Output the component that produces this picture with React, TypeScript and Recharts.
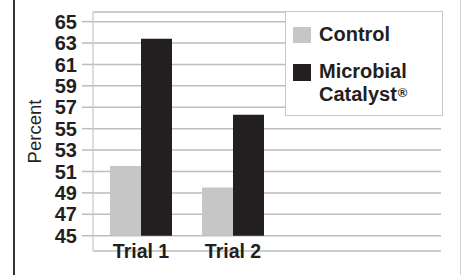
import { BarChart, Bar, XAxis, YAxis, CartesianGrid, Legend, Label } from "recharts";

const categories = ["Trial 1", "Trial 2"];
const controlValues = [51.5, 49.5];
const catalystValues = [63.4, 56.3];
const baseValue = 45;
const yTicks = [45, 47, 49, 51, 53, 55, 57, 59, 61, 63, 65];

const CONTROL_COLOR = "#c6c6c6";
const CATALYST_COLOR = "#231f20";
const TEXT_COLOR = "#231f20";
const GRID_COLOR = "#bdbdbd";
const FONT = "'Liberation Sans', Arial, sans-serif";

const chartData = categories.map((name, i) => ({
  name,
  control: [baseValue, controlValues[i]],
  catalyst: [baseValue, catalystValues[i]],
}));

const LegendBox = () => (
  <div
    style={{
      position: "relative",
      width: 156,
      height: 103,
      border: "1px solid #c8c8c8",
      background: "#fff",
      fontFamily: FONT,
      fontWeight: 700,
      fontSize: 20,
      lineHeight: "23px",
      color: TEXT_COLOR,
    }}
  >
    <div style={{ position: "absolute", left: 7, top: 15, width: 18, height: 16, background: CONTROL_COLOR }} />
    <div style={{ position: "absolute", left: 33, top: 11, whiteSpace: "nowrap" }}>Control</div>
    <div style={{ position: "absolute", left: 7, top: 52, width: 18, height: 17, background: CATALYST_COLOR }} />
    <div style={{ position: "absolute", left: 33, top: 48, whiteSpace: "nowrap" }}>
      Microbial
      <br />
      Catalyst
      <span style={{ fontSize: 13, verticalAlign: "top", position: "relative", top: -2, marginLeft: 1 }}>®</span>
    </div>
  </div>
);

const XTick = ({ x, y, payload }: any) => (
  <text
    x={x}
    y={y + 7}
    textAnchor="middle"
    fill={TEXT_COLOR}
    fontFamily={FONT}
    fontWeight={700}
    fontSize={19.5}
  >
    {payload.value}
  </text>
);

export default function App() {
  return (
    <div style={{ position: "absolute", left: 0, top: 0, width: 462, height: 275, background: "#fff" }}>
      <div style={{ position: "absolute", left: 13, top: 0, width: 2, height: 275, background: "#333" }} />
      <div style={{ position: "absolute", left: 460, top: 0, width: 1, height: 275, background: "#d0d0d0" }} />
      <BarChart
        width={462}
        height={275}
        data={chartData}
        margin={{ top: 12, right: 21, bottom: 0, left: 0 }}
        barCategoryGap={15}
        barGap={0}
      >
        <CartesianGrid vertical={false} stroke={GRID_COLOR} strokeWidth={1.5} />
        <XAxis
          dataKey="name"
          height={24}
          axisLine={false}
          tickLine={false}
          tickSize={0}
          tickMargin={0}
          padding={{ left: 2, right: 162 }}
          tick={<XTick />}
          interval={0}
        />
        <YAxis
          width={93}
          domain={[43.57, 65.9]}
          ticks={yTicks}
          interval={0}
          allowDataOverflow
          axisLine={{ stroke: "#d0d0d0", strokeWidth: 1.5 }}
          tickLine={{ stroke: GRID_COLOR, strokeWidth: 1.5 }}
          tickSize={11}
          tickMargin={5}
          tick={{ fill: TEXT_COLOR, fontFamily: FONT, fontWeight: 700, fontSize: 20 }}
        >
          <Label
            content={({ viewBox }: any) => {
              const cy = viewBox.y + viewBox.height / 2;
              return (
                <text
                  x={41}
                  y={cy}
                  transform={`rotate(-90, 41, ${cy})`}
                  textAnchor="middle"
                  fill={TEXT_COLOR}
                  fontFamily={FONT}
                  fontSize={18.5}
                >
                  Percent
                </text>
              );
            }}
          />
        </YAxis>
        <Legend
          layout="horizontal"
          verticalAlign="middle"
          align="center"
          content={() => <LegendBox />}
          wrapperStyle={{ position: "absolute", left: 285, top: 11, width: 158, height: 105 }}
        />
        <Bar dataKey="control" name="Control" fill={CONTROL_COLOR} isAnimationActive={false} />
        <Bar dataKey="catalyst" name="Microbial Catalyst®" fill={CATALYST_COLOR} isAnimationActive={false} />
      </BarChart>
    </div>
  );
}
